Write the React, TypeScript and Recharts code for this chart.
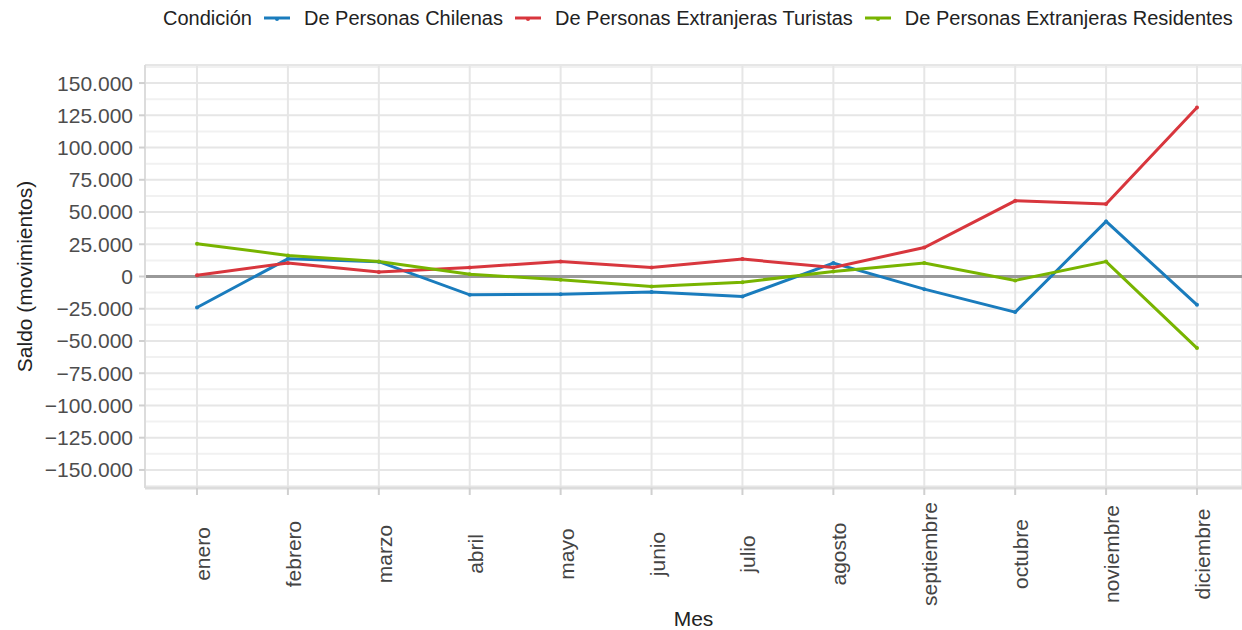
import React from 'react';
import { LineChart, Line, XAxis, YAxis, CartesianGrid, ReferenceLine } from 'recharts';

// Monthly balance of movements by condition
const meses = ['enero', 'febrero', 'marzo', 'abril', 'mayo', 'junio', 'julio', 'agosto', 'septiembre', 'octubre', 'noviembre', 'diciembre'];
const chilenas = [-24000, 13700, 11500, -14200, -13700, -12100, -15500, 10400, -9800, -27600, 42700, -22000];
const turistas = [1000, 10400, 3400, 7000, 11600, 7000, 13500, 7000, 22500, 58700, 56200, 131100];
const residentes = [25400, 16300, 11600, 1800, -2600, -7700, -4400, 3900, 10400, -3100, 11600, -55500];

const yTicks = [-150000, -125000, -100000, -75000, -50000, -25000, 0, 25000, 50000, 75000, 100000, 125000, 150000];
const yMinor = [-162500, -137500, -112500, -87500, -62500, -37500, -12500, 12500, 37500, 62500, 87500, 112500, 137500, 162500];
const yMax = 164000;

const series = [
  { key: 'chilenas', name: 'De Personas Chilenas', color: '#1a7cbd' },
  { key: 'turistas', name: 'De Personas Extranjeras Turistas', color: '#d8363d' },
  { key: 'residentes', name: 'De Personas Extranjeras Residentes', color: '#78b400' },
];

const data = meses.map((mes, i) => ({
  mes,
  chilenas: chilenas[i],
  turistas: turistas[i],
  residentes: residentes[i],
}));

const FONT = '"Liberation Sans", Arial, sans-serif';

const formatNum = (v: number) => {
  const s = Math.abs(v).toString().replace(/\B(?=(\d{3})+(?!\d))/g, '.');
  return v < 0 ? '\u2212' + s : s;
};

const MonthTick = (props: any) => {
  const { x, y, payload } = props;
  const tx = x + 13;
  const ty = y + 57;
  return (
    <text x={tx} y={ty} transform={`rotate(-90, ${tx}, ${ty})`} textAnchor="middle" fontSize={21} fill="#444" fontFamily={FONT}>
      {payload.value}
    </text>
  );
};

const LegendIcon = ({ color }: { color: string }) => (
  <svg width={26} height={10} style={{ display: 'block' }}>
    <line x1={0} y1={4} x2={26} y2={4} stroke={color} strokeWidth={3} />
    <circle cx={13} cy={5} r={2} fill={color} />
  </svg>
);

export default function App() {
  return (
    <div style={{ position: 'absolute', left: 0, top: 0, width: 1242, height: 630, background: '#fff', fontFamily: FONT }}>
      {/* legend */}
      <div style={{ position: 'absolute', left: 163, top: 7, display: 'flex', alignItems: 'center', fontSize: 20, lineHeight: '23px', color: '#222', whiteSpace: 'nowrap' }}>
        <span style={{ marginRight: 12 }}>Condición</span>
        {series.map((s) => (
          <React.Fragment key={s.key}>
            <span style={{ marginRight: 14 }}><LegendIcon color={s.color} /></span>
            <span style={{ marginRight: 12 }}>{s.name}</span>
          </React.Fragment>
        ))}
      </div>
      <LineChart width={1242} height={630} data={data} margin={{ top: 65, right: 0, bottom: 0, left: 0 }}>
        <CartesianGrid horizontalValues={yMinor} vertical={false} stroke="#f1f1f1" strokeWidth={2} />
        <CartesianGrid horizontalValues={yTicks} stroke="#e6e6e6" strokeWidth={2} />
        <XAxis
          dataKey="mes"
          interval={0}
          height={142}
          padding={{ left: 52, right: 45 }}
          tickSize={7}
          tick={<MonthTick />}
          axisLine={{ stroke: '#dcdcdc', strokeWidth: 3 }}
          tickLine={{ stroke: '#d0d0d0', strokeWidth: 2 }}
          label={{ value: 'Mes', position: 'insideBottom', offset: 4, fontSize: 21, fill: '#222', fontFamily: FONT }}
        />
        <YAxis
          width={145}
          domain={[-yMax, yMax]}
          ticks={yTicks}
          interval={0}
          tickSize={6}
          tickMargin={6}
          tickFormatter={formatNum}
          tick={{ fontSize: 21, fill: '#4d4d4d', fontFamily: FONT }}
          axisLine={{ stroke: '#dcdcdc', strokeWidth: 2 }}
          tickLine={{ stroke: '#d0d0d0', strokeWidth: 2 }}
          label={{
            value: 'Saldo (movimientos)',
            content: ({ viewBox }: any) => {
              const cx = 24;
              const cy = viewBox.y + viewBox.height / 2;
              return (
                <text x={cx} y={cy} transform={`rotate(-90, ${cx}, ${cy})`} textAnchor="middle" dominantBaseline="central" fontSize={21} fill="#222" fontFamily={FONT}>
                  Saldo (movimientos)
                </text>
              );
            },
          }}
        />
        <ReferenceLine y={yMax} stroke="#e6e6e6" strokeWidth={2} />
        <ReferenceLine y={0} stroke="#999" strokeWidth={3} />
        {series.map((s) => (
          <Line
            key={s.key}
            type="linear"
            dataKey={s.key}
            name={s.name}
            stroke={s.color}
            strokeWidth={3}
            dot={{ r: 2, fill: s.color, stroke: 'none' }}
            activeDot={false}
            isAnimationActive={false}
          />
        ))}
      </LineChart>
    </div>
  );
}
